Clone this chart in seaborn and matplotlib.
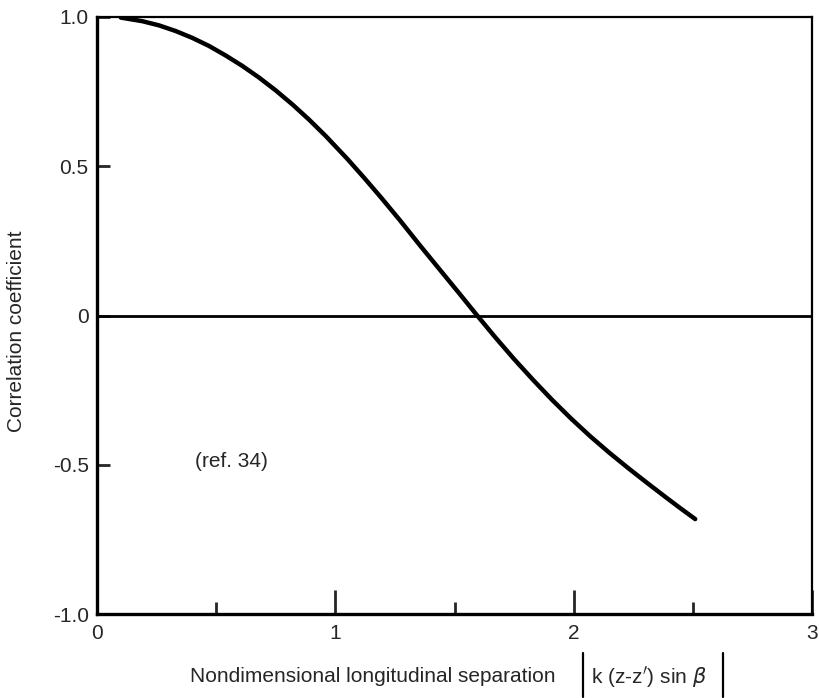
import pandas as pd
import numpy as np
import matplotlib
matplotlib.use("Agg")
import matplotlib.pyplot as plt
from matplotlib.lines import Line2D
import seaborn as sns

# values
separation = [0.10, 0.19, 0.26, 0.33, 0.40, 0.47, 0.54, 0.61, 0.68, 0.75, 0.82,
              0.89, 0.96, 1.05, 1.12, 1.19, 1.27, 1.36, 1.44, 1.52, 1.59, 1.67,
              1.75, 1.83, 1.91, 1.99, 2.07, 2.15, 2.23, 2.31, 2.39, 2.45, 2.51]
correlation = [0.998, 0.986, 0.972, 0.953, 0.930, 0.903, 0.871, 0.836, 0.797, 0.754, 0.707,
               0.656, 0.601, 0.525, 0.462, 0.397, 0.320, 0.230, 0.152, 0.074, 0.005, -0.072,
               -0.146, -0.216, -0.283, -0.346, -0.405, -0.460, -0.512, -0.562, -0.611, -0.647, -0.682]
y_ticks = [-1.0, -0.5, 0.0, 0.5, 1.0]
y_tick_labels = ["-1.0", "-0.5", "0", "0.5", "1.0"]
x_ticks = [0, 1, 2, 3]
x_minor = [0.5, 1.5, 2.5]

df = pd.DataFrame({"sep": separation, "corr": correlation})

sns.set_style("white")
plt.rcParams["font.family"] = ["Liberation Sans", "DejaVu Sans"]

fig = plt.figure(figsize=(8.19, 6.98), dpi=100)
ax = fig.add_axes([97/819, 1 - 614/698, (812-97)/819, (614-17)/698])

sns.lineplot(data=df, x="sep", y="corr", color="black", lw=3.2, ax=ax,
             solid_joinstyle="round", solid_capstyle="round")
ax.axhline(0, color="black", lw=2.0)

ax.set_xlim(0, 3)
ax.set_ylim(-1, 1)
ax.set_xticks(x_ticks)
ax.set_xticks(x_minor, minor=True)
ax.set_yticks(y_ticks)
ax.set_yticklabels(y_tick_labels)
ax.tick_params(axis="x", which="major", direction="in", length=17, width=2,
               labelsize=15, pad=7, bottom=True)
ax.tick_params(axis="x", which="minor", direction="in", length=9, width=2, bottom=True)
ax.tick_params(axis="y", which="major", direction="in", length=9, width=2,
               labelsize=15, pad=6, left=True)
ax.set_xlabel("")
ax.set_ylabel("Correlation coefficient", fontsize=15)
ax.yaxis.set_label_coords(-0.099, 0.474)

for side in ["left", "bottom"]:
    ax.spines[side].set_linewidth(2.4)
for side in ["top", "right"]:
    ax.spines[side].set_linewidth(1.6)
for s in ax.spines.values():
    s.set_color("black")

ax.text(0.41, -0.49, "(ref. 34)", fontsize=15, ha="left", va="center")

# x axis label with the absolute-value bars
fig.text(190/819, 1 - 677/698, "Nondimensional longitudinal separation",
         fontsize=15, ha="left", va="center")
fig.text(591/819, 1 - 677/698, r"k (z-z$'$) sin $\beta$",
         fontsize=15, ha="left", va="center")
for bx in [583, 723]:
    fig.add_artist(Line2D([bx/819, bx/819], [1 - 653/698, 1 - 698/698 + 0.002],
                          color="black", lw=1.6))

fig.savefig("out.png", dpi=100)
